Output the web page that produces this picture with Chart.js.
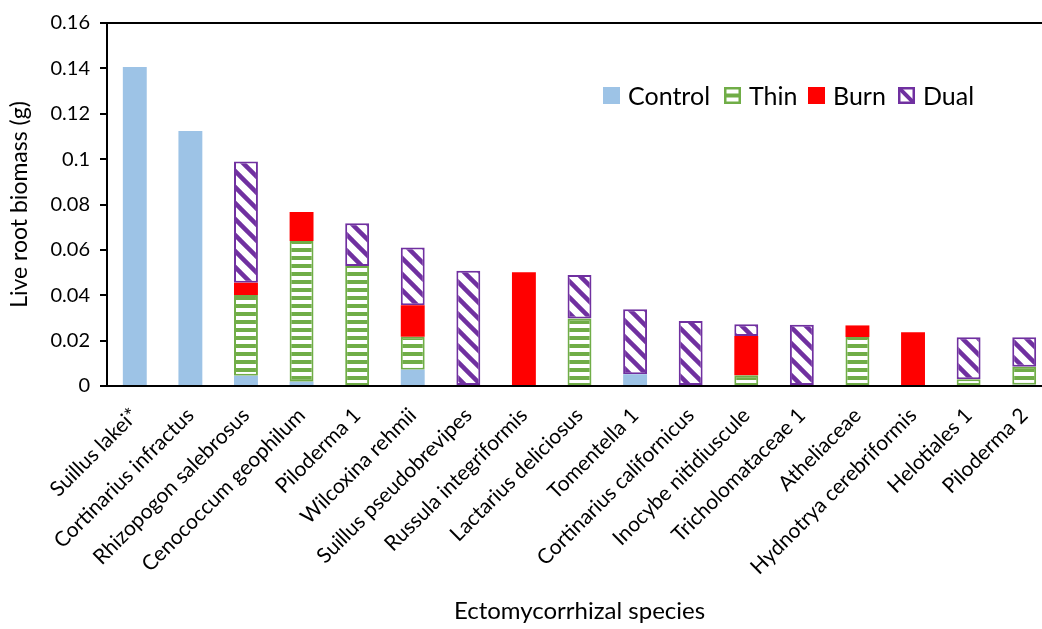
<!DOCTYPE html>
<html>
<head>
<meta charset="utf-8">
<script src="https://cdn.jsdelivr.net/npm/chart.js@4/dist/chart.umd.min.js"></script>
<style>
  html, body { margin: 0; padding: 0; background: #fff; overflow: hidden; }
  #wrap { width: 1052px; height: 629px; }
</style>
</head>
<body>
<div id="wrap"><canvas id="c" width="1052" height="629"></canvas></div>
<script>
// Ectomycorrhizal species and live root biomass (g) per treatment
const species = [
  'Suillus lakei*', 'Cortinarius infractus', 'Rhizopogon salebrosus', 'Cenococcum geophilum',
  'Piloderma 1', 'Wilcoxina rehmii', 'Suillus pseudobrevipes', 'Russula integriformis',
  'Lactarius deliciosus', 'Tomentella 1', 'Cortinarius californicus', 'Inocybe nitidiuscule',
  'Tricholomataceae 1', 'Atheliaceae', 'Hydnotrya cerebriformis', 'Helotiales 1', 'Piloderma 2'
];
const control = [0.1406, 0.1124, 0.0045, 0.0019, null, 0.0072, null, null, null, 0.0052, null, null, null, null, null, null, 0.0005];
const thin    = [null, null, 0.0356, 0.0620, 0.0529, 0.0145, null, null, 0.0298, null, null, 0.0047, null, 0.0216, null, 0.0030, 0.0080];
const burn    = [null, null, 0.0054, 0.0128, null, 0.0139, null, 0.0501, null, null, null, 0.0173, null, 0.0051, 0.0237, null, null];
const dual    = [null, null, 0.0534, null, 0.0188, 0.0255, 0.0508, null, 0.0191, 0.0286, 0.0287, 0.0052, 0.0270, null, null, 0.0185, 0.0130];

const seriesNames = ['Control', 'Thin', 'Burn', 'Dual'];
const yTickLabels = ['0', '0.02', '0.04', '0.06', '0.08', '0.1', '0.12', '0.14', '0.16'];

const FONT = 'Lato';
const BLUE = '#9DC3E6', GREEN = '#70AD47', RED = '#FF0000', PURPLE = '#7030A0';

const canvas = document.getElementById('c');
const ctx = canvas.getContext('2d');

// horizontal green/white stripes
function makeStripes() {
  const t = document.createElement('canvas');
  t.width = 8; t.height = 8;
  const g = t.getContext('2d');
  g.fillStyle = '#fff'; g.fillRect(0, 0, 8, 8);
  g.fillStyle = GREEN; g.fillRect(0, 0, 8, 4);
  return ctx.createPattern(t, 'repeat');
}
// wide downward diagonal purple lines
function makeDiagonal() {
  const s = 16;
  const t = document.createElement('canvas');
  t.width = s; t.height = s;
  const g = t.getContext('2d');
  g.fillStyle = '#fff'; g.fillRect(0, 0, s, s);
  g.strokeStyle = PURPLE; g.lineWidth = 4.5;
  for (let k = -1; k <= 1; k++) {
    g.beginPath();
    g.moveTo(k * s - 2, -2);
    g.lineTo(k * s + s + 2, s + 2);
    g.stroke();
  }
  return ctx.createPattern(t, 'repeat');
}
const stripeFill = makeStripes();
const diagFill = makeDiagonal();

// legend drawn inside the plot, top right
const legendSlots = [603, 724, 808, 898];
const legendPlugin = {
  id: 'insideLegend',
  afterDraw(chart) {
    const c = chart.ctx;
    c.save();
    c.font = '25px ' + FONT;
    c.textBaseline = 'middle';
    const yc = 95.5, box = 17;
    const top = yc - box / 2;
    seriesNames.forEach((name, i) => {
      const x = legendSlots[i];
      if (i === 0) { c.fillStyle = BLUE; c.fillRect(x, top, box, box); }
      if (i === 1) {
        c.fillStyle = '#fff'; c.fillRect(x, top, box, box);
        c.fillStyle = GREEN; c.fillRect(x, top + box / 2 - 2, box, 4);
        c.strokeStyle = GREEN; c.lineWidth = 2.5; c.strokeRect(x + 1.25, top + 1.25, box - 2.5, box - 2.5);
      }
      if (i === 2) { c.fillStyle = RED; c.fillRect(x, top, box, box); }
      if (i === 3) {
        c.fillStyle = '#fff'; c.fillRect(x, top, box, box);
        c.save();
        c.beginPath(); c.rect(x, top, box, box); c.clip();
        c.strokeStyle = PURPLE; c.lineWidth = 4;
        c.beginPath(); c.moveTo(x, top); c.lineTo(x + box, top + box); c.stroke();
        c.restore();
        c.strokeStyle = PURPLE; c.lineWidth = 2.5; c.strokeRect(x + 1.25, top + 1.25, box - 2.5, box - 2.5);
      }
      c.fillStyle = '#000';
      c.textAlign = 'left';
      c.fillText(name, x + box + 8, yc + 1);
    });
    c.restore();
  }
};

new Chart(ctx, {
  type: 'bar',
  data: {
    labels: species,
    datasets: [
      { label: seriesNames[0], data: control, backgroundColor: BLUE, borderWidth: 0 },
      { label: seriesNames[1], data: thin, backgroundColor: stripeFill, borderColor: GREEN, borderWidth: 2, borderSkipped: false },
      { label: seriesNames[2], data: burn, backgroundColor: RED, borderWidth: 0 },
      { label: seriesNames[3], data: dual, backgroundColor: diagFill, borderColor: PURPLE, borderWidth: 2, borderSkipped: false }
    ]
  },
  options: {
    responsive: false,
    animation: false,
    devicePixelRatio: 1,
    layout: { padding: { top: 23, right: 0, bottom: 0, left: 0 } },
    datasets: { bar: { categoryPercentage: 1, barPercentage: 0.43 } },
    plugins: { legend: { display: false }, tooltip: { enabled: false } },
    scales: {
      x: {
        stacked: true,
        grid: { display: false },
        border: { display: true, color: '#000', width: 2 },
        ticks: { color: '#000', font: { family: FONT, size: 21 }, minRotation: 45, maxRotation: 45, padding: 9, autoSkip: false },
        title: { display: true, text: 'Ectomycorrhizal species', color: '#000', font: { family: FONT, size: 24 }, padding: { top: 0, bottom: 3 } },
        afterFit(scale) { scale.height = 243; }
      },
      y: {
        stacked: true,
        min: 0, max: 0.16,
        grid: {
          drawOnChartArea: true,
          color: (c) => (c.tick && Math.abs(c.tick.value - 0.16) < 1e-9) ? '#000' : 'rgba(0,0,0,0)',
          tickColor: '#000', tickLength: 7, lineWidth: 2
        },
        border: { display: true, color: '#000', width: 2 },
        ticks: {
          stepSize: 0.02, color: '#000', font: { family: FONT, size: 20 }, padding: 10,
          callback: (v, i) => yTickLabels[i]
        },
        title: { display: true, text: 'Live root biomass (g)', color: '#000', font: { family: FONT, size: 23 }, padding: { top: 6, bottom: 0 } },
        afterFit(scale) { scale.width = 107; }
      }
    }
  },
  plugins: [legendPlugin]
});
</script>
</body>
</html>
